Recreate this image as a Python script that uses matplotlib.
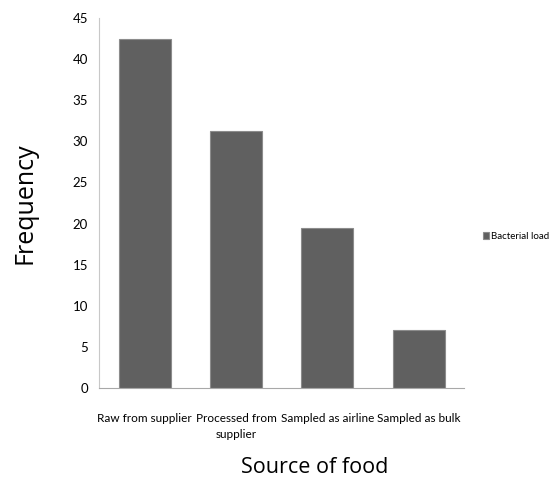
import matplotlib.pyplot as plt
import numpy as np

categories = ['Raw from supplier', 'Processed from\nsupplier', 'Sampled as airline', 'Sampled as bulk']
values = [42.5, 31.2, 19.5, 7.0]
yticks = [0, 5, 10, 15, 20, 25, 30, 35, 40, 45]
series_name = 'Bacterial load'

narrow = ['Lato', 'DejaVu Sans']

fig = plt.figure(figsize=(5.6, 4.8), dpi=100)
ax = fig.add_axes([0.177, 0.1917, 0.652, 0.7708])

x = np.arange(len(categories))
ax.bar(x, values, width=0.57, color='#606060', edgecolor='#8c8c8c', linewidth=0.8, label=series_name)

ax.set_xlim(-0.5, len(categories) - 0.5)
ax.set_ylim(0, 45)
ax.set_yticks(yticks)
ax.set_xticks(x)
ax.set_xticklabels(categories, family=narrow, fontsize=8.5, linespacing=1.6)
ax.set_yticklabels([str(t) for t in yticks], family=narrow, fontsize=9.5)
ax.tick_params(axis='both', length=0)
ax.tick_params(axis='x', pad=18)
ax.tick_params(axis='y', pad=8)

for s in ['top', 'right']:
    ax.spines[s].set_visible(False)
ax.spines['left'].set_color('#c8c8c8')
ax.spines['bottom'].set_color('#a8a8a8')

fig.text(0.045, 0.577, 'Frequency', rotation=90, ha='center', va='center',
         family=['Open Sans', 'DejaVu Sans'], fontsize=18)
fig.text(0.562, 0.027, 'Source of food', ha='center', va='center',
         family=['Open Sans', 'DejaVu Sans'], fontsize=15.5)

leg = fig.legend(loc='center left', bbox_to_anchor=(0.862, 0.508), frameon=False,
                 prop={'family': narrow, 'size': 7}, handlelength=0.6,
                 handleheight=0.8, handletextpad=0.3, borderpad=0, borderaxespad=0)

fig.savefig('out.png', dpi=100)
